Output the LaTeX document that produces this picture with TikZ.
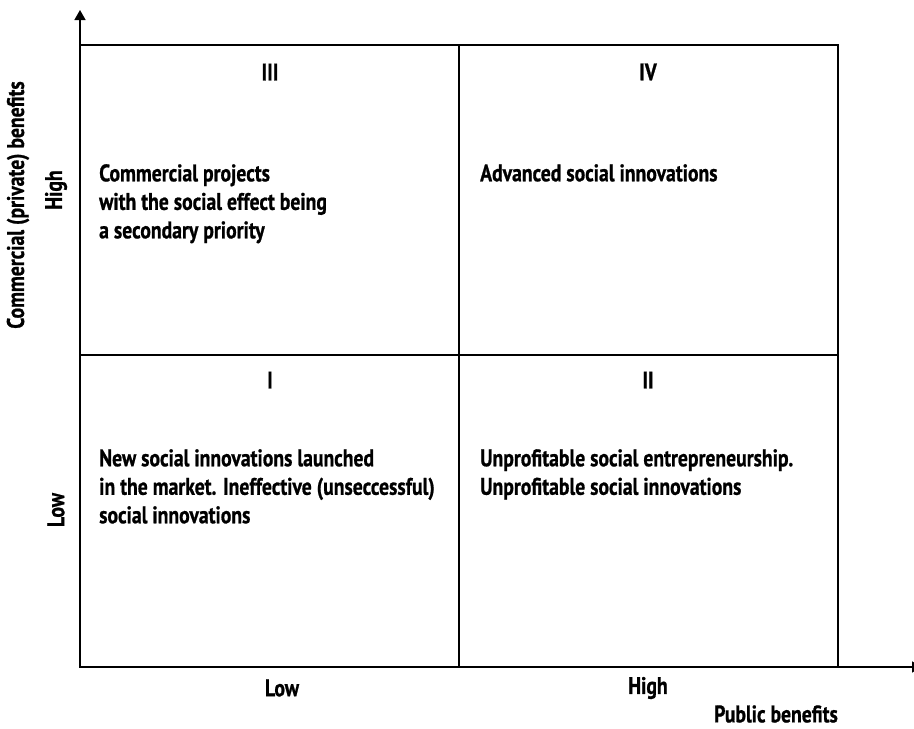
\documentclass[tikz,border=0pt]{standalone}
\usepackage{fontspec}
\setmainfont{PT Sans}[FakeStretch=0.82,BoldFeatures={FakeBold=0.8}]
\usetikzlibrary{arrows.meta}
\begin{document}
\begin{tikzpicture}[x=1pt,y=-1pt,
  axis/.style={line width=1.5pt,-{Triangle[length=10pt,width=11pt]}},
  cell/.style={draw,line width=1.1pt},
  lbl/.style={font=\bfseries\fontsize{24}{28.5}\selectfont,inner sep=0pt},
  txt/.style={lbl,anchor=north west,align=left},
]
\useasboundingbox (0,0) rectangle (914,729);
% quadrant frame
\coordinate (o) at (80,667);
\coordinate (tl) at (80,45);
\coordinate (br) at (838,667);
\draw[cell] (tl) rectangle (br);
\draw[cell] (459,45) -- (459,667);
\draw[cell] (80,355) -- (838,355);
% axes (the horizontal tip runs past the page edge)
\coordinate (ytip) at (80,10);
\coordinate (xtip) at (922,667);
\draw[axis] (o) -- (ytip);
\draw[axis] (o) -- (xtip);
% quadrant numbers
\node[lbl] (q3) at (270,72) {III};
\node[lbl] (q4) at (648,72) {IV};
\node[lbl] (q1) at (270,380) {I};
\node[lbl] (q2) at (648,380) {II};
% quadrant descriptions
\node[txt] (t3) at (99,164) {Commercial projects\\with the social effect being\\a secondary priority};
\node[txt] (t4) at (480,164) {Advanced social innovations};
\node[txt] (t1) at (99,449) {New social innovations launched\\in the market. Ineffective (unseccessful)\\social innovations};
\node[txt] (t2) at (480,449) {Unprofitable social entrepreneurship.\\Unprofitable social innovations};
% axis labels
\node[lbl] (xlow) at (282,688) {Low};
\node[lbl] (xhigh) at (648,688) {High};
\node[lbl] (xname) at (776,714) {Public benefits};
\node[lbl,rotate=90] (yhigh) at (56,190) {High};
\node[lbl,rotate=90] (ylow) at (56,510) {Low};
\node[lbl,rotate=90] (yname) at (18,205) {Commercial (private) benefits};
\end{tikzpicture}
\end{document}
